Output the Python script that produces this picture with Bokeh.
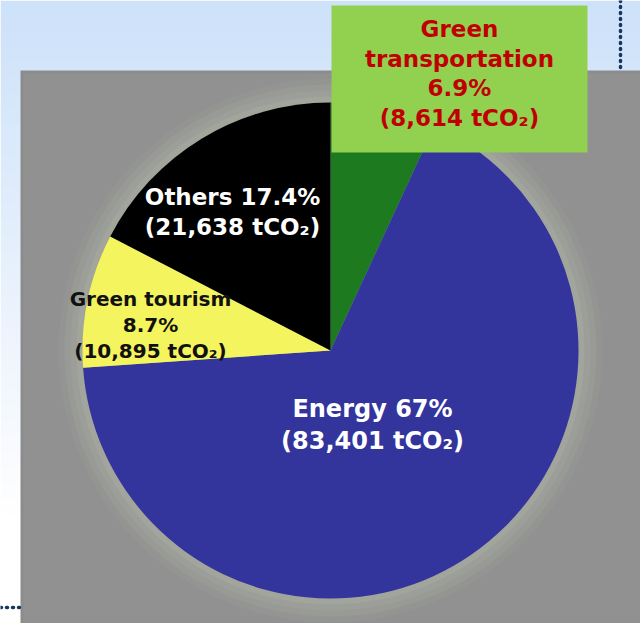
import math
from bokeh.plotting import figure
from bokeh.models import Range1d
from bokeh.core.properties import value
from bokeh.embed import file_html
from bokeh.resources import INLINE

# ---- data ----
categories = ["Green transportation", "Energy", "Green tourism", "Others"]
shares = [6.9, 67, 8.7, 17.4]            # percent, clockwise from 12 o'clock
emissions = [8614, 83401, 10895, 21638]  # tCO2
slice_colors = ["#1E7A1E", "#33349C", "#F4F45E", "#000000"]

W, H = 640, 623
p = figure(width=W, height=H, output_backend="svg", toolbar_location=None,
           x_range=Range1d(0, W), y_range=Range1d(0, H), min_border=0)
p.axis.visible = False
p.grid.visible = False
p.outline_line_color = None
p.background_fill_color = "#FFFFFF"
p.border_fill_color = "#FFFFFF"

def Y(img_y):
    return H - img_y

# background gradient (light blue to white)
top_c = (0xCE, 0xE2, 0xFA)
bot_c = (0xFF, 0xFF, 0xFF)
n = 40
for i in range(n):
    t = i / (n - 1)
    c = tuple(int(top_c[k] + (bot_c[k] - top_c[k]) * min(1, t * 1.2)) for k in range(3))
    y0 = H * i / n
    p.quad(left=0, right=W, top=Y(y0), bottom=Y(y0 + H / n + 1),
           fill_color="#%02x%02x%02x" % c, line_color=None)

# gray slide panel
p.quad(left=20, right=W, top=Y(70), bottom=0, fill_color="#8C8C8C", line_color=None)
p.quad(left=23, right=W, top=Y(73), bottom=0, fill_color="#919191", line_color=None)

cx, cy, r = 330, Y(350), 248
# soft halo
for k, a in [(24, 0.10), (18, 0.14), (12, 0.18), (6, 0.24)]:
    p.circle(x=[cx], y=[cy], radius=r + k, fill_color="#B4B8A8", fill_alpha=a, line_color=None)

# pie
cum = 0.0
starts, ends = [], []
for s in shares:
    starts.append(math.pi / 2 - 2 * math.pi * cum / 100)
    cum += s
    ends.append(math.pi / 2 - 2 * math.pi * cum / 100)
p.wedge(x=[cx] * 4, y=[cy] * 4, radius=r, start_angle=starts, end_angle=ends,
        direction="clock", fill_color=slice_colors, line_color=None)

# dotted decorative lines
p.line(x=[620, 620], y=[Y(0), Y(70)], line_color="#17365F", line_width=3.5,
       line_dash="1 5", line_cap="round")
p.line(x=[0, 20], y=[Y(607), Y(607)], line_color="#17365F", line_width=3.5,
       line_dash="1 5", line_cap="round")

# green label box
p.quad(left=331, right=587, top=Y(5), bottom=Y(152), fill_color="#92D050", line_color=None)

def fmt(s):
    return f"{s:g}%"

def co2(v):
    return f"({v:,} tCO\u2082)"

font = value("DejaVu Sans")

# Green transportation label
gt_lines = ["Green", "transportation", fmt(shares[0]), co2(emissions[0])]
p.text(x=[459] * 4, y=[Y(28), Y(58), Y(87), Y(117)], text=gt_lines,
       text_font=font, text_font_style="bold", text_font_size="23px",
       text_color="#C00000", text_align="center", text_baseline="middle")

# Others label
ot_lines = [f"{categories[3]} {fmt(shares[3])}", co2(emissions[3])]
p.text(x=[232] * 2, y=[Y(196), Y(226)], text=ot_lines,
       text_font=font, text_font_style="bold", text_font_size="23px",
       text_color="#FFFFFF", text_align="center", text_baseline="middle")

# Green tourism label
tr_lines = [categories[2], fmt(shares[2]), co2(emissions[2])]
p.text(x=[150] * 3, y=[Y(298), Y(324), Y(350)], text=tr_lines,
       text_font=font, text_font_style="bold", text_font_size="20px",
       text_color="#111111", text_align="center", text_baseline="middle")

# Energy label
en_lines = [f"{categories[1]} {fmt(shares[1])}", co2(emissions[1])]
p.text(x=[372] * 2, y=[Y(408), Y(440)], text=en_lines,
       text_font=font, text_font_style="bold", text_font_size="24px",
       text_color="#FFFFFF", text_align="center", text_baseline="middle")

open("out.html", "w").write(file_html(p, INLINE))
